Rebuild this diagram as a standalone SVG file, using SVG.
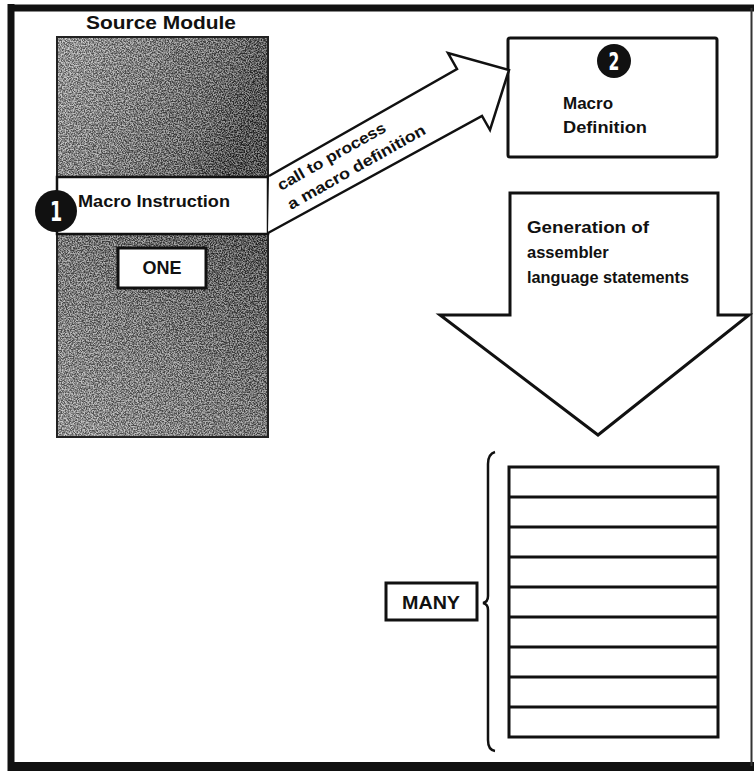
<svg xmlns="http://www.w3.org/2000/svg" width="754" height="772" viewBox="0 0 754 772">
<style>
.t{font-family:"Liberation Sans",Arial,sans-serif;font-weight:bold;fill:#111}
.box{fill:#fff;stroke:#111;stroke-width:3}
.ln{fill:none;stroke:#111;stroke-width:2.5}
.num{font-family:"DejaVu Sans Condensed","Liberation Sans",sans-serif;font-weight:bold;fill:#fff}
</style>
<defs>
<linearGradient id="gTop" x1="0" y1="0" x2="1" y2="0.3">
<stop offset="0" stop-color="#a8a8a8"/>
<stop offset="0.45" stop-color="#7e7e7e"/>
<stop offset="0.8" stop-color="#5a5a5a"/>
<stop offset="1" stop-color="#333"/>
</linearGradient>
<linearGradient id="gBot" x1="0" y1="1" x2="1" y2="0">
<stop offset="0" stop-color="#a0a0a0"/>
<stop offset="0.5" stop-color="#737373"/>
<stop offset="0.85" stop-color="#4a4a4a"/>
<stop offset="1" stop-color="#303030"/>
</linearGradient>
<filter id="grain" x="0" y="0" width="1" height="1" color-interpolation-filters="sRGB">
<feTurbulence type="fractalNoise" baseFrequency="0.75" numOctaves="3" seed="7"/>
<feColorMatrix type="matrix" values="3 0 0 0 -1  3 0 0 0 -1  3 0 0 0 -1  0 0 0 0 1"/>
</filter>
</defs>
<rect x="0" y="0" width="754" height="772" fill="#fff"/>
<g id="frame">
<line x1="11" y1="4" x2="11" y2="771" stroke="#111" stroke-width="7"/>
<line x1="8" y1="8" x2="754" y2="8" stroke="#111" stroke-width="7"/>
<line x1="8" y1="766.5" x2="754" y2="766.5" stroke="#111" stroke-width="9"/>
<line x1="751.5" y1="8" x2="751.5" y2="766" stroke="#333" stroke-width="2"/>
</g>
<g id="source-module">
<text class="t" x="161" y="29" font-size="18" text-anchor="middle" textLength="150" lengthAdjust="spacingAndGlyphs">Source Module</text>
<rect x="57" y="37" width="211" height="140" fill="url(#gTop)"/>
<rect x="57" y="37" width="211" height="140" filter="url(#grain)" opacity="0.45"/>
<rect x="57" y="234" width="211" height="203" fill="url(#gBot)"/>
<rect x="57" y="234" width="211" height="203" filter="url(#grain)" opacity="0.45"/>
<rect x="57" y="37" width="211" height="400" fill="none" stroke="#222" stroke-width="2"/>
<rect x="57" y="177" width="211" height="57" fill="#fff" stroke="#111" stroke-width="2.5"/>
</g>
<g id="macro-instruction">
<circle cx="56" cy="211" r="21" fill="#111"/>
<text class="num" x="56" y="221" font-size="27" text-anchor="middle" transform="translate(56 0) scale(0.72 1) translate(-56 0)">1</text>
<text class="t" x="78" y="207" font-size="16.5" textLength="152" lengthAdjust="spacingAndGlyphs">Macro Instruction</text>
</g>
<g id="one-label">
<rect class="box" x="118" y="248" width="88" height="40"/>
<text class="t" x="162" y="274" font-size="18" text-anchor="middle">ONE</text>
</g>
<g id="macro-definition">
<rect class="box" x="508" y="38" width="209" height="119" rx="2"/>
<circle cx="614" cy="61" r="17" fill="#111"/>
<text class="num" x="614" y="70" font-size="24" text-anchor="middle" transform="translate(614 0) scale(0.72 1) translate(-614 0)">2</text>
<text class="t" x="563" y="109" font-size="17">Macro</text>
<text class="t" x="563" y="133" font-size="17" textLength="84" lengthAdjust="spacingAndGlyphs">Definition</text>
</g>
<g id="connectors">
<g id="call-arrow">
<path class="ln" d="M268,233 L482,116 L490,130 L509,70 L448,53 L457,69 L269,176" style="fill:#fff"/>
<g transform="rotate(-29.5 281 191)">
<text class="t" x="281" y="191" font-size="15.5" textLength="122" lengthAdjust="spacingAndGlyphs">call to process</text>
</g>
<g transform="rotate(-29.5 291 210)">
<text class="t" x="291" y="210" font-size="15.5" textLength="156" lengthAdjust="spacingAndGlyphs">a macro definition</text>
</g>
</g>
<g id="generation-arrow">
<path d="M510,193 L718,193 L718,315 L749,315 L598,435 L440,315 L510,315 Z" fill="#fff" stroke="#111" stroke-width="3" stroke-linejoin="miter"/>
<text class="t" x="527" y="233" font-size="16.5" textLength="122" lengthAdjust="spacingAndGlyphs">Generation of</text>
<text class="t" x="527" y="258" font-size="16.5">assembler</text>
<text class="t" x="527" y="283" font-size="16.5" textLength="162" lengthAdjust="spacingAndGlyphs">language statements</text>
</g>
<path id="brace" class="ln" d="M495,452 Q488,454 488,464 L488,596 Q488,602 483,603 Q488,604 488,610 L488,740 Q488,750 495,751"/>
</g>
<g id="statements">
<rect x="509" y="467" width="209" height="270" fill="#fff" stroke="#111" stroke-width="3"/>
<g stroke="#111" stroke-width="3">
<line x1="509" y1="497" x2="718" y2="497"/>
<line x1="509" y1="527" x2="718" y2="527"/>
<line x1="509" y1="557" x2="718" y2="557"/>
<line x1="509" y1="587" x2="718" y2="587"/>
<line x1="509" y1="617" x2="718" y2="617"/>
<line x1="509" y1="647" x2="718" y2="647"/>
<line x1="509" y1="677" x2="718" y2="677"/>
<line x1="509" y1="707" x2="718" y2="707"/>
</g>
</g>
<g id="many-label">
<rect class="box" x="386" y="583" width="91" height="37" stroke-width="2.5"/>
<text class="t" x="431" y="609" font-size="18" text-anchor="middle" textLength="58" lengthAdjust="spacingAndGlyphs">MANY</text>
</g>
</svg>
